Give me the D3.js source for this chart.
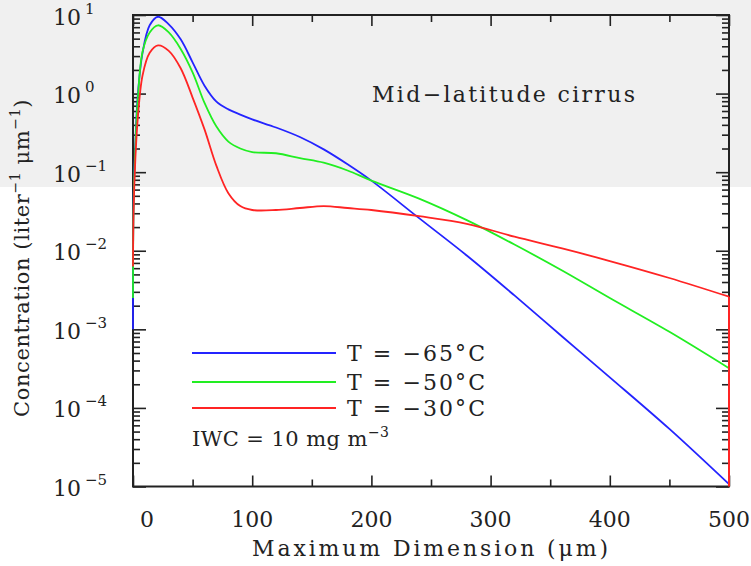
<!DOCTYPE html>
<html>
<head>
<meta charset="utf-8">
<script src="https://cdn.jsdelivr.net/npm/d3@7"></script>
<style>
  body { margin: 0; background: #fff; }
  svg { display: block; font-family: "DejaVu Serif", serif; }
</style>
</head>
<body>
<div id="root"></div>
<script>
// maximum dimension (um)
const dims = [0, 0.5, 2, 4, 8, 14, 21, 30, 40, 50, 60, 70, 80, 90, 100, 120, 140, 160, 180, 200, 240, 280, 320, 360, 400, 450, 500];

// concentration (liter^-1 um^-1)
const t65 = [1.0e-3, 0.050, 0.24, 0.95, 3.3, 7.4, 9.5, 7.6, 4.9, 2.5, 1.26, 0.79, 0.63, 0.54, 0.47, 0.37, 0.28, 0.195, 0.126, 0.078, 0.026, 8.7e-3, 2.7e-3, 8.1e-4, 2.45e-4, 5.4e-5, 1.07e-5];
const t50 = [2.5e-3, 0.040, 0.21, 0.83, 3.4, 6.0, 7.4, 6.0, 3.7, 1.86, 0.76, 0.38, 0.245, 0.20, 0.18, 0.174, 0.151, 0.132, 0.105, 0.078, 0.046, 0.0245, 0.012, 5.6e-3, 2.5e-3, 9.3e-4, 3.2e-4];
const t30 = [6.3e-3, 0.032, 0.15, 0.48, 1.7, 3.3, 4.1, 3.5, 2.1, 0.89, 0.35, 0.12, 0.054, 0.037, 0.033, 0.033, 0.035, 0.037, 0.035, 0.033, 0.0275, 0.022, 0.0151, 0.0107, 7.4e-3, 4.5e-3, 2.6e-3];

const seriesNames = ["T = \u221265\u00b0C", "T = \u221250\u00b0C", "T = \u221230\u00b0C"];
const seriesColors = ["#2424ff", "#22ee22", "#ff2424"];

const xTicks = [0, 100, 200, 300, 400, 500];
const xMinor = [50, 150, 250, 350, 450];
const yExponents = [1, 0, -1, -2, -3, -4, -5];

const width = 751;
const height = 566;

var svg = d3.select("#root").append("svg")
  .attr("width", width)
  .attr("height", height);

// light grey band across the top
svg.append("rect")
  .attr("x", 0).attr("y", 0)
  .attr("width", width).attr("height", 187)
  .attr("fill", "#f0f0f0");

var x = d3.scaleLinear().domain([0, 500]).range([133, 729]);
var y = d3.scaleLog().domain([1e-5, 10]).range([486.5, 15]);

// minor log ticks
var yMinor = [];
for (var e = -5; e < 1; e++) {
  for (var m = 2; m <= 9; m++) yMinor.push(m * Math.pow(10, e));
}
var yMajor = yExponents.map(d => Math.pow(10, d));

function styleAxis(g) {
  g.select(".domain").remove();
  g.selectAll("line").attr("stroke", "#222").attr("stroke-width", 1.6);
  g.selectAll("text").remove();
}

var yB = y.range()[0], yT = y.range()[1];
var xL = x.range()[0], xR = x.range()[1];

svg.append("defs").append("clipPath").attr("id", "plot")
  .append("rect")
  .attr("x", xL - 1).attr("y", yT - 1)
  .attr("width", xR - xL + 2).attr("height", yB - yT + 2);

svg.append("g").attr("transform", `translate(0,${yB})`)
  .call(d3.axisBottom(x).tickValues(xTicks).tickSize(-11).tickSizeOuter(0)).call(styleAxis);
svg.append("g").attr("transform", `translate(0,${yB})`)
  .call(d3.axisBottom(x).tickValues(xMinor).tickSize(-7).tickSizeOuter(0)).call(styleAxis);
svg.append("g").attr("transform", `translate(0,${yT})`)
  .call(d3.axisTop(x).tickValues(xTicks).tickSize(-11).tickSizeOuter(0)).call(styleAxis);
svg.append("g").attr("transform", `translate(0,${yT})`)
  .call(d3.axisTop(x).tickValues(xMinor).tickSize(-7).tickSizeOuter(0)).call(styleAxis);

svg.append("g").attr("transform", `translate(${xL},0)`)
  .call(d3.axisLeft(y).tickValues(yMajor).tickSize(-13).tickSizeOuter(0)).call(styleAxis);
svg.append("g").attr("transform", `translate(${xL},0)`)
  .call(d3.axisLeft(y).tickValues(yMinor).tickSize(-7).tickSizeOuter(0)).call(styleAxis);
svg.append("g").attr("transform", `translate(${xR},0)`)
  .call(d3.axisRight(y).tickValues(yMajor).tickSize(-13).tickSizeOuter(0)).call(styleAxis);
svg.append("g").attr("transform", `translate(${xR},0)`)
  .call(d3.axisRight(y).tickValues(yMinor).tickSize(-7).tickSizeOuter(0)).call(styleAxis);

// frame
svg.append("rect")
  .attr("x", xL).attr("y", yT)
  .attr("width", xR - xL).attr("height", yB - yT)
  .attr("fill", "none")
  .attr("stroke", "#222")
  .attr("stroke-width", 2);

// curves
var line = d3.line()
  .x(d => x(d[0]))
  .y(d => y(d[1]))
  .curve(d3.curveCatmullRom.alpha(0.5));

var curves = svg.append("g").attr("clip-path", "url(#plot)");
[t65, t50, t30].forEach(function(vals, i) {
  curves.append("path")
    .datum(dims.map((d, j) => [d, vals[j]]))
    .attr("d", line)
    .attr("fill", "none")
    .attr("stroke", seriesColors[i])
    .attr("stroke-width", 1.8);
});

// red curve carried down the right edge
svg.append("line")
  .attr("x1", x(500)).attr("x2", x(500))
  .attr("y1", y(t30[t30.length - 1])).attr("y2", yB)
  .attr("stroke", seriesColors[2])
  .attr("stroke-width", 2);

// x tick labels
svg.append("g").selectAll("text")
  .data(xTicks)
  .enter().append("text")
  .attr("x", d => x(d) + (d === 0 ? 14 : 0))
  .attr("y", 527)
  .attr("text-anchor", "middle")
  .attr("font-size", 22)
  .attr("fill", "#222")
  .text(d => d);

// y tick labels
var yl = svg.append("g").selectAll("text")
  .data(yExponents)
  .enter().append("text")
  .attr("x", 53)
  .attr("y", d => y(Math.pow(10, d)) + 9.5)
  .attr("font-size", 22)
  .attr("fill", "#222");
yl.append("tspan").text("10");
yl.append("tspan")
  .attr("dx", 4)
  .attr("dy", -11)
  .attr("font-size", 15)
  .text(d => d < 0 ? "\u2212" + (-d) : d);

// axis titles
svg.append("text")
  .attr("x", 252).attr("y", 556)
  .attr("font-size", 22)
  .attr("fill", "#222")
  .attr("textLength", 356)
  .attr("lengthAdjust", "spacing")
  .text("Maximum Dimension (\u03bcm)");

var yt = svg.append("text")
  .attr("transform", "translate(29,417) rotate(-90)")
  .attr("font-size", 21)
  .attr("letter-spacing", 0.6)
  .attr("fill", "#222");
yt.append("tspan").text("Concentration (liter");
yt.append("tspan").attr("dy", -9).attr("font-size", 14).text("\u22121");
yt.append("tspan").attr("dy", 9).text(" \u03bcm");
yt.append("tspan").attr("dy", -9).attr("font-size", 14).text("\u22121");
yt.append("tspan").attr("dy", 9).text(")");

svg.append("text")
  .attr("x", 372).attr("y", 102)
  .attr("font-size", 22)
  .attr("fill", "#222")
  .attr("textLength", 263)
  .attr("lengthAdjust", "spacing")
  .text("Mid\u2212latitude cirrus");

// legend
var legendY = [353, 382, 408];
var legend = svg.append("g");
seriesNames.forEach(function(name, i) {
  legend.append("line")
    .attr("x1", 192).attr("x2", 336)
    .attr("y1", legendY[i]).attr("y2", legendY[i])
    .attr("stroke", seriesColors[i])
    .attr("stroke-width", 1.8);
  legend.append("text")
    .attr("x", 347).attr("y", legendY[i] + 8)
    .attr("font-size", 22)
    .attr("fill", "#222")
    .attr("textLength", 138)
    .attr("lengthAdjust", "spacing")
    .text(name);
});

var iwc = legend.append("text")
  .attr("x", 192).attr("y", 446)
  .attr("font-size", 21)
  .attr("fill", "#222")
  .attr("textLength", 197)
  .attr("lengthAdjust", "spacing");
iwc.append("tspan").text("IWC = 10 mg m");
iwc.append("tspan").attr("dy", -9).attr("font-size", 14).text("\u22123");
</script>
</body>
</html>
